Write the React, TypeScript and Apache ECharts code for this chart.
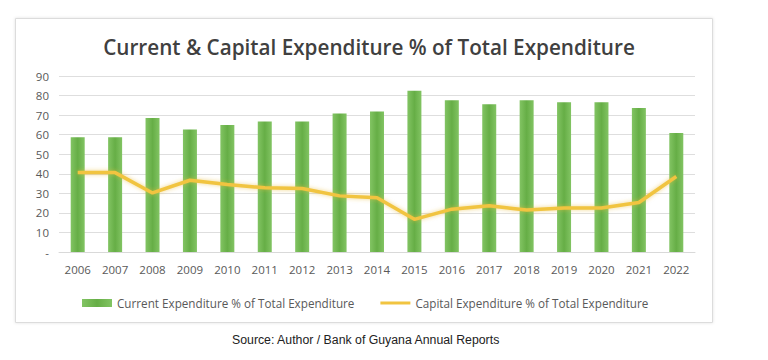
import React, { useEffect, useRef } from "react";
import * as echarts from "echarts";

const years = ["2006","2007","2008","2009","2010","2011","2012","2013","2014","2015","2016","2017","2018","2019","2020","2021","2022"];
const currentExp = [58.7, 58.7, 68.5, 62.6, 65.0, 66.7, 66.7, 70.8, 71.9, 82.5, 77.6, 75.5, 77.6, 76.6, 76.6, 73.6, 60.9];
const capitalExp = [40.6, 40.6, 30.2, 36.7, 34.5, 32.8, 32.5, 28.7, 27.7, 16.7, 21.9, 23.6, 21.5, 22.5, 22.5, 25.3, 38.6];

const titleText = "Current & Capital Expenditure % of Total Expenditure";
const currentName = "Current Expenditure % of Total Expenditure";
const capitalName = "Capital Expenditure % of Total Expenditure";
const sourceText = "Source: Author / Bank of Guyana Annual Reports";

const FONT = "'Open Sans', 'Noto Sans', sans-serif";

export default function App() {
  const ref = useRef<HTMLDivElement>(null);
  useEffect(() => {
    document.body.style.margin = "0";
    const chart = echarts.init(ref.current!, null, { renderer: "svg" });
    chart.setOption({
      animation: false,
      backgroundColor: "#ffffff",
      graphic: [
        {
          type: "rect",
          z: -10,
          shape: { x: 15.5, y: 18.5, width: 697, height: 304 },
          style: { fill: "#ffffff", stroke: "#dcdcdc", lineWidth: 1, shadowBlur: 3, shadowColor: "rgba(0,0,0,0.12)" },
          silent: true,
        },
        {
          type: "text",
          left: 232,
          top: 334,
          style: { text: sourceText, font: "12.3px 'Liberation Sans', Arial, sans-serif", fill: "#222222" },
        },
      ],
      title: {
        text: titleText,
        left: 364,
        textAlign: "center",
        top: 31,
        textStyle: { fontFamily: FONT, fontSize: 20.7, fontWeight: 600, color: "#404040" },
      },
      legend: {
        top: 292,
        left: 77,
        itemGap: 26,
        itemWidth: 30,
        itemHeight: 8,
        textStyle: { fontFamily: FONT, fontSize: 11.7, color: "#595959" },
        data: [
          { name: currentName, icon: "rect" },
          { name: capitalName, icon: "path://M0,0 L30,0 L30,3 L0,3 Z" },
        ],
      },
      grid: { left: 59, right: 73, top: 76, bottom: 108 },
      xAxis: {
        type: "category",
        data: years,
        axisLine: { lineStyle: { color: "#d9d9d9" } },
        axisTick: { show: false },
        axisLabel: { fontFamily: FONT, fontSize: 11.5, color: "#595959", margin: 11 },
      },
      yAxis: {
        type: "value",
        min: 0,
        max: 90,
        interval: 10,
        axisLine: { show: false },
        axisTick: { show: false },
        splitLine: { lineStyle: { color: "#dedede" } },
        axisLabel: {
          fontFamily: FONT,
          fontSize: 11.5,
          color: "#595959",
          margin: 10,
          formatter: (v: number) => (v === 0 ? "-" : String(v)),
        },
      },
      series: [
        {
          name: currentName,
          type: "bar",
          data: currentExp,
          barWidth: 14,
          itemStyle: {
            color: new echarts.graphic.LinearGradient(0, 0, 1, 0, [
              { offset: 0, color: "#82c463" },
              { offset: 0.5, color: "#66ae46" },
              { offset: 1, color: "#82c463" },
            ]),
          },
        },
        {
          name: capitalName,
          type: "line",
          data: capitalExp,
          symbol: "none",
          color: "#f1c440",
          lineStyle: { color: "#f1c440", width: 3.5, shadowBlur: 4, shadowColor: "rgba(230,185,50,0.6)" },
        },
      ],
    });
    return () => chart.dispose();
  }, []);
  return <div ref={ref} style={{ width: 768, height: 360 }} />;
}
